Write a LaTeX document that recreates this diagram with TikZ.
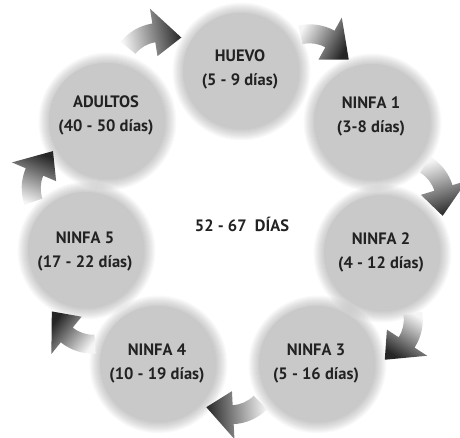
\documentclass[tikz,border=0pt]{standalone}
\usepackage{fontspec}
\setmainfont{PT Sans}
\usetikzlibrary{calc}
\definecolor{circfill}{HTML}{C9C9C9}
\definecolor{txt}{HTML}{222222}
\tikzset{
  stage/.style={circle, fill=circfill, minimum size=114pt, inner sep=0pt},
  stagetext/.style={align=center, text=txt, inner sep=0pt, font=\bfseries\fontsize{16.5}{24}\selectfont},
}
\newcommand{\cyclearrow}[3]{%
  \pgfmathsetmacro\shang{100-#3}%
  \shade[left color=black!4, middle color=black!40, right color=black!85, shading angle=\shang]
    ($(#1,#2)+(#3-141:51)$) arc[start angle=#3-141, end angle=#3-99, radius=51]
    -- ($(#1,#2)+(#3-99:66)$) -- ($(#1,#2)+(#3-60:42)$) -- ($(#1,#2)+(#3-99:18)$)
    -- ($(#1,#2)+(#3-99:32)$)
    arc[start angle=#3-99, end angle=#3-141, radius=32] -- cycle;
}
\newcommand{\halo}[2]{%
  \foreach \k in {58,...,69} {\fill[black, opacity=0.02] ($(#1,#2)+(1.5,1.5)$) circle[radius=\k pt];}
}
\begin{document}
\begin{tikzpicture}[x=1pt, y=-1pt]
\useasboundingbox (0,0) rectangle (460,438);
% halos
\halo{240}{70}
\halo{371}{121}
\halo{381}{252}
\halo{316}{363}
\halo{157}{363}
\halo{85}{249}
\halo{106}{120}
% arrows
\cyclearrow{160.3}{73.9}{0}
\cyclearrow{309.8}{75.3}{38}
\cyclearrow{403.7}{200.1}{82}
\cyclearrow{371.8}{319.8}{132}
\cyclearrow{231}{373.2}{186}
\cyclearrow{92.9}{302.7}{228}
\cyclearrow{72.7}{188.2}{302}
% stages
\node[stage] (huevo) at (240,70) {};
\node[stage] (n1) at (371,121) {};
\node[stage] (n2) at (381,252) {};
\node[stage] (n3) at (316,363) {};
\node[stage] (n4) at (157,363) {};
\node[stage] (n5) at (85,249) {};
\node[stage] (ad) at (106,120) {};
\node[stagetext] (thuevo) at ($(huevo)+(0,-1)$) {HUEVO\\(5 - 9 días)};
\node[stagetext] (tn1) at ($(n1)+(0,-5)$) {NINFA 1\\(3-8 días)};
\node[stagetext] (tn2) at (n2) {NINFA 2\\(4 - 12 días)};
\node[stagetext] (tn3) at (n3) {NINFA 3\\(5 - 16 días)};
\node[stagetext] (tn4) at (n4) {NINFA 4\\(10 - 19 días)};
\node[stagetext] (tn5) at ($(n5)+(0,2)$) {NINFA 5\\(17 - 22 días)};
\node[stagetext] (tad) at ($(ad)+(0,-5)$) {ADULTOS\\(40 - 50 días)};
\node[stagetext] (total) at (242,224) {52 - 67\ \ DÍAS};
\end{tikzpicture}
\end{document}
